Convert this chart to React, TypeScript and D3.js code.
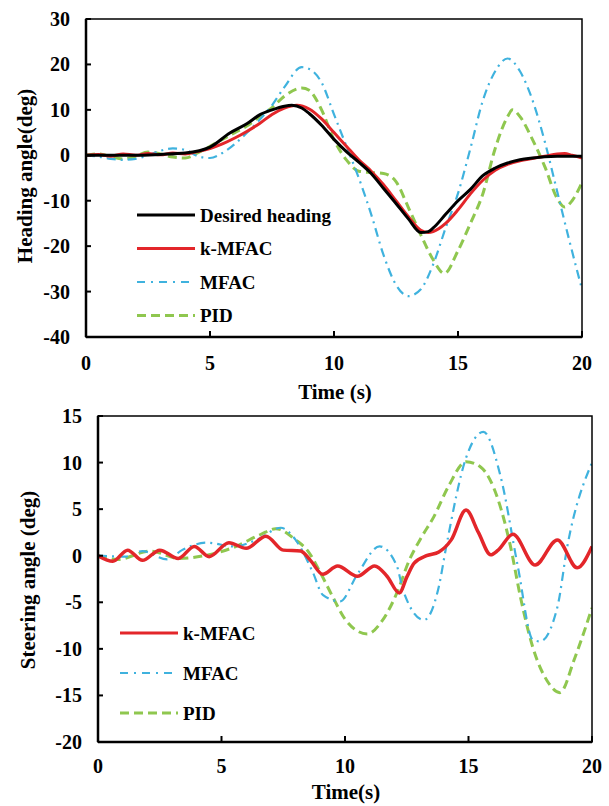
import React from 'react';
import * as d3 from 'd3';

// time ticks shared by both panels
const timeTicks = [0, 5, 10, 15, 20];
const headingTicks = [30, 20, 10, 0, -10, -20, -30, -40];
const steerTicks = [15, 10, 5, 0, -5, -10, -15, -20];

// heading angle (deg)
const desiredT = [0, 1, 2, 3, 4, 5, 5.8, 6.5, 7, 7.5, 8, 8.3, 8.7, 9, 9.5, 10, 10.5, 11, 11.5, 12, 12.5, 13, 13.5, 13.8, 14, 14.5, 15, 15.5, 16, 16.5, 17, 17.5, 18, 18.5, 19, 20];
const desiredV = [0, 0, 0, 0.2, 0.5, 1.8, 4.9, 7, 8.9, 10, 10.8, 11, 10.4, 9.2, 6.6, 3.5, 0.8, -1.5, -4, -7.3, -10.6, -14, -17, -16.8, -16, -13, -10, -7.5, -4.5, -2.8, -1.7, -1, -0.6, -0.3, -0.2, -0.2];

const kmfacHeadT = [0, 0.5, 1, 1.5, 2, 2.5, 3, 3.5, 4, 4.5, 5, 5.5, 6, 6.5, 7, 7.5, 8, 8.5, 9, 9.5, 10, 10.5, 11, 11.5, 12, 12.5, 13, 13.5, 13.8, 14, 14.5, 15, 15.5, 16, 16.5, 17, 17.5, 18, 18.5, 19, 19.3, 19.6, 20];
const kmfacHeadV = [0, 0.2, -0.2, 0.3, 0, 0.4, 0.1, 0.5, 0.3, 0.8, 1.5, 2.5, 3.8, 5.3, 7, 9, 10.4, 11, 10.2, 8, 5, 2, -1, -3.5, -6.5, -10, -13.5, -16.5, -17, -16.8, -15, -12, -8.5, -5.5, -3.3, -2, -1.2, -0.7, -0.2, 0.3, 0.4, 0, -0.6];

const mfacHeadT = [0, 0.5, 1, 1.5, 2, 2.5, 3, 3.5, 4, 4.5, 5, 5.5, 6, 6.5, 7, 7.5, 8, 8.7, 9, 9.5, 10, 10.5, 11, 11.5, 12, 12.5, 13, 13.5, 14, 14.5, 15, 15.5, 16, 16.5, 17, 17.5, 18, 18.5, 19, 19.5, 20];
const mfacHeadV = [0, -0.3, -0.8, -1, -0.8, 0, 1, 1.5, 1.2, -0.2, -0.6, 0.5, 2.5, 5, 7.8, 11, 15, 19.4, 19, 16, 9, 2, -5, -13, -22, -28.5, -31, -29.5, -24, -16, -8.4, 1.5, 12, 18.5, 21.3, 18.5, 12.2, 3, -8, -19, -29.5];

const pidHeadT = [0, 0.5, 1, 1.5, 2, 2.5, 3, 3.5, 4, 4.5, 5, 5.5, 6, 6.5, 7, 7.5, 8, 8.7, 9, 9.5, 10, 10.5, 11, 11.5, 12, 12.5, 13, 13.5, 14, 14.45, 15, 15.5, 16, 16.5, 17, 17.2, 17.5, 18, 18.5, 19, 19.3, 19.6, 20];
const pidHeadV = [0, 0.3, -0.3, -0.8, -0.2, 0.7, 0.3, -0.4, -0.6, 0.5, 2, 3.5, 5, 6.5, 8.5, 10.5, 13, 14.8, 14.3, 10, 3.4, -1, -3.5, -3.8, -4, -5.8, -11.5, -17.5, -23, -26, -21, -15, -8.5, 1.5, 8.5, 10, 8.5, 3.5, -2.5, -9.5, -11.4, -10, -6];

// steering angle (deg)
const kmfacSteerT = [0, 0.6, 1.2, 1.8, 2.5, 3.25, 3.9, 4.5, 5.3, 6, 6.8, 7.5, 8.2, 8.6, 9.1, 9.7, 10.5, 11.2, 11.7, 12.2, 12.5, 12.8, 13.3, 13.8, 14.3, 14.9, 15.4, 15.9, 16.2, 16.8, 17.7, 18.6, 19.4, 20];
const kmfacSteerV = [0, -0.6, 0.6, -0.5, 0.6, -0.3, 1, -0.1, 1.4, 0.8, 2.1, 0.6, 0.5, -0.5, -2, -1.1, -2.2, -1.1, -2.2, -4, -2.3, -0.8, 0, 0.4, 1.7, 4.9, 2.5, 0.1, 0.6, 2.3, -1, 1.7, -1.3, 1];

const mfacSteerT = [0, 1.1, 1.8, 2.8, 3.4, 4.4, 5.5, 6.5, 7.4, 8, 8.7, 9.1, 9.8, 10.5, 11.4, 12.1, 12.35, 13.2, 13.8, 14.1, 14.9, 15.6, 16.3, 17, 17.6, 17.9, 18.6, 19, 20];
const mfacSteerV = [0, -0.1, 0.5, -0.4, 0.6, 1.4, 1, 1.8, 3, 1.7, -1.8, -4.2, -4.9, -2, 1, -1.1, -3.7, -6.9, -3.3, 1, 10.5, 13.3, 8.5, -1.2, -9, -9.2, -5.5, 1, 10];

const pidSteerT = [0, 0.8, 2.1, 3.3, 4.3, 5.5, 6.6, 7.2, 8, 8.5, 9, 9.5, 10, 10.9, 11.5, 12.1, 12.6, 13.1, 13.6, 14.2, 14.9, 15.5, 16.2, 16.7, 17.1, 17.6, 18.2, 18.7, 19.3, 20];
const pidSteerV = [0, -0.4, 0.5, -0.3, 0, 0.9, 2.3, 2.9, 1.7, 0.5, -1.8, -4.4, -6.8, -8.4, -7, -4, -0.5, 2, 4.2, 7.5, 10.1, 9.5, 6, 1, -4.4, -9.8, -13.5, -14.7, -11, -5.6];

const FONT = '"Liberation Serif", "Times New Roman", serif';

const STYLES: Record<string, { color: string; width: number; dash?: string }> = {
  desired: { color: '#000000', width: 3 },
  kmfac: { color: '#e3262a', width: 3 },
  mfac: { color: '#3fb2de', width: 2.2, dash: '9,5,2,5' },
  pid: { color: '#8fc74f', width: 3, dash: '9,5' },
};

type Series = { key: string; label: string; t: number[]; v: number[] };

type PanelProps = {
  id: string;
  x0: number; x1: number; y0: number; y1: number;
  yDomain: [number, number];
  yTicks: number[];
  series: Series[];
  yTitle: string;
  xTitle: string;
  yTitleX: number; yTitleY: number;
  xTitleX: number; xTitleY: number;
  tickLabelGap: number;
  xLabelY: number;
  legendX: number;
  legendY: number;
  legendStep: number;
  redWidth?: number;
};

const Panel = (p: PanelProps) => {
  const x = d3.scaleLinear().domain([0, 20]).range([p.x0, p.x1]);
  const y = d3.scaleLinear().domain(p.yDomain).range([p.y1, p.y0]);
  const line = d3.line<[number, number]>()
    .x(d => x(d[0]))
    .y(d => y(d[1]))
    .curve(d3.curveMonotoneX);

  return (
    <g>
      <defs>
        <clipPath id={`clip-${p.id}`}>
          <rect x={p.x0} y={p.y0 - 2} width={p.x1 - p.x0} height={p.y1 - p.y0 + 2} />
        </clipPath>
      </defs>
      <g clipPath={`url(#clip-${p.id})`}>
        {[...p.series].reverse().map(s => {
          const st = STYLES[s.key];
          const pts = s.t.map((t, i) => [t, s.v[i]] as [number, number]);
          return (
            <path key={s.key} d={line(pts) || ''} fill="none" stroke={st.color}
              strokeWidth={s.key === 'kmfac' && p.redWidth ? p.redWidth : st.width}
              strokeDasharray={st.dash} strokeLinejoin="round" />
          );
        })}
      </g>
      {/* frame */}
      <rect x={p.x0} y={p.y0} width={p.x1 - p.x0} height={p.y1 - p.y0} fill="none" stroke="#000" strokeWidth={1.5} />
      <line x1={p.x0} x2={p.x0} y1={p.y0} y2={p.y1} stroke="#000" strokeWidth={2.5} />
      <line x1={p.x0} x2={p.x1} y1={p.y1} y2={p.y1} stroke="#000" strokeWidth={2.5} />
      {/* y ticks */}
      {p.yTicks.map(t => (
        <g key={`y${t}`}>
          <line x1={p.x0} x2={p.x0 + 5} y1={y(t)} y2={y(t)} stroke="#000" strokeWidth={2} />
          <text x={p.x0 - p.tickLabelGap} y={y(t)} textAnchor="end" dominantBaseline="central"
            fontFamily={FONT} fontWeight="bold" fontSize={20}>{t}</text>
        </g>
      ))}
      {/* x ticks */}
      {timeTicks.map(t => (
        <g key={`x${t}`}>
          <line x1={x(t)} x2={x(t)} y1={p.y1} y2={p.y1 - 6} stroke="#000" strokeWidth={2} />
          <text x={x(t)} y={p.xLabelY} textAnchor="middle" dominantBaseline="central"
            fontFamily={FONT} fontWeight="bold" fontSize={20}>{t}</text>
        </g>
      ))}
      <text x={p.xTitleX} y={p.xTitleY} textAnchor="middle" dominantBaseline="central"
        fontFamily={FONT} fontWeight="bold" fontSize={21}>{p.xTitle}</text>
      <text transform={`translate(${p.yTitleX},${p.yTitleY}) rotate(-90)`} textAnchor="middle"
        dominantBaseline="central" fontFamily={FONT} fontWeight="bold" fontSize={21}>{p.yTitle}</text>
      {/* legend */}
      {p.series.map((s, i) => {
        const st = STYLES[s.key];
        const ly = p.legendY + i * p.legendStep;
        return (
          <g key={`lg${s.key}`}>
            <line x1={p.legendX} x2={p.legendX + 58} y1={ly} y2={ly} stroke={st.color}
              strokeWidth={s.key === 'mfac' ? 2 : 3} strokeDasharray={s.key === 'mfac' ? '8,6,2,6' : st.dash} />
            <text x={p.legendX + 63} y={ly} dominantBaseline="central" fontFamily={FONT}
              fontWeight="bold" fontSize={19}>{s.label}</text>
          </g>
        );
      })}
    </g>
  );
};

export default function App() {
  const headingSeries: Series[] = [
    { key: 'desired', label: 'Desired heading', t: desiredT, v: desiredV },
    { key: 'kmfac', label: 'k-MFAC', t: kmfacHeadT, v: kmfacHeadV },
    { key: 'mfac', label: 'MFAC', t: mfacHeadT, v: mfacHeadV },
    { key: 'pid', label: 'PID', t: pidHeadT, v: pidHeadV },
  ];
  const steerSeries: Series[] = [
    { key: 'kmfac', label: 'k-MFAC', t: kmfacSteerT, v: kmfacSteerV },
    { key: 'mfac', label: 'MFAC', t: mfacSteerT, v: mfacSteerV },
    { key: 'pid', label: 'PID', t: pidSteerT, v: pidSteerV },
  ];
  return (
    <svg width={609} height={806} style={{ position: 'absolute', left: 0, top: 0, background: '#fff' }}>
      <rect width={609} height={806} fill="#fff" />
      <Panel id="heading" x0={86} x1={582} y0={19} y1={337} yDomain={[-40, 30]} yTicks={headingTicks}
        series={headingSeries} yTitle="Heading angle(deg)" xTitle="Time (s)"
        yTitleX={25} yTitleY={176} xTitleX={335} xTitleY={392}
        tickLabelGap={16} xLabelY={363} legendX={137} legendY={215} legendStep={33.5} />
      <Panel id="steer" x0={98} x1={592} y0={416} y1={742} yDomain={[-20, 15]} yTicks={steerTicks}
        series={steerSeries} yTitle="Steering angle (deg)" xTitle="Time(s)"
        yTitleX={28} yTitleY={580} xTitleX={346} xTitleY={792}
        tickLabelGap={16} xLabelY={766} legendX={120} legendY={633} legendStep={40} redWidth={3.5} />
    </svg>
  );
}
